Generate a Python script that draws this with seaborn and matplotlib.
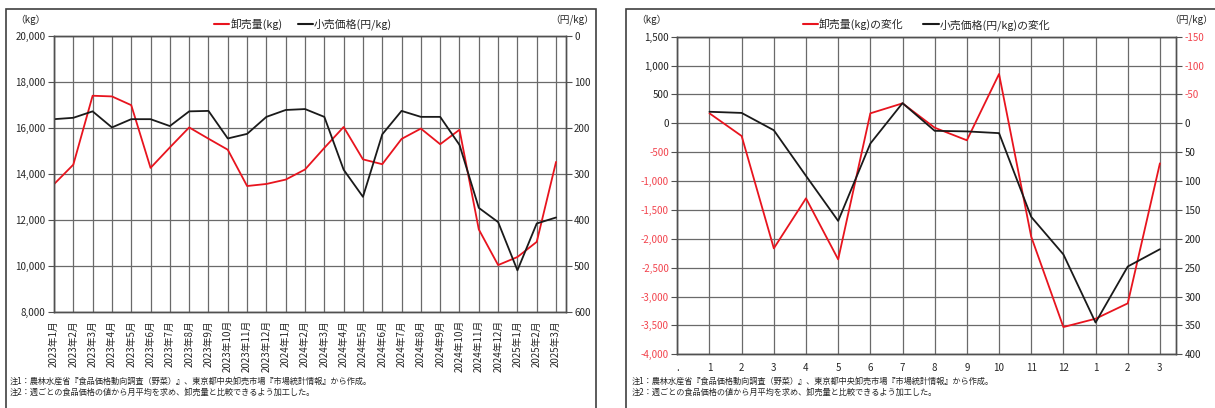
import numpy as np
import pandas as pd
import matplotlib
matplotlib.use("Agg")
import matplotlib.pyplot as plt
import matplotlib.patches as mpatches
from matplotlib.lines import Line2D
import seaborn as sns

# ---- data -------------------------------------------------------------
months = ["2023年1月", "2023年2月", "2023年3月", "2023年4月", "2023年5月", "2023年6月",
          "2023年7月", "2023年8月", "2023年9月", "2023年10月", "2023年11月", "2023年12月",
          "2024年1月", "2024年2月", "2024年3月", "2024年4月", "2024年5月", "2024年6月",
          "2024年7月", "2024年8月", "2024年9月", "2024年10月", "2024年11月", "2024年12月",
          "2025年1月", "2025年2月", "2025年3月"]
volume_kg = [13550, 14400, 17400, 17370, 16990, 14260, 15150, 16020, 15530, 15050,
             13470, 13560, 13750, 14190, 15130, 16040, 14630, 14420, 15520, 15970,
             15290, 15920, 11580, 10030, 10380, 11040, 14520]
price_yen = [181, 178, 164, 199, 181, 181, 196, 164, 163, 223, 213, 176, 161, 159,
             176, 291, 350, 214, 163, 176, 176, 237, 374, 405, 510, 408, 395]

change_labels = [".", "1", "2", "3", "4", "5", "6", "7", "8", "9", "10", "11", "12",
                 "1", "2", "3"]
volume_change = [173, -220, -2165, -1299, -2356, 173, 346, -76, -294, 854,
                 -1964, -3528, -3384, -3118, -693]
price_change = [-20, -18, 12, 91, 169, 35, -35, 13, 14, 17, 162, 227, 345, 248, 218]

left_ticks = [8000, 10000, 12000, 14000, 16000, 18000, 20000]
right_ticks = [0, 100, 200, 300, 400, 500, 600]
chg_left_ticks = list(range(-4000, 1501, 500))
chg_right_ticks = list(range(-150, 401, 50))

notes = ["注1：農林水産省『食品価格動向調査（野菜）』、東京都中央卸売市場『市場統計情報』から作成。",
         "注2：週ごとの食品価格の値から月平均を求め、卸売量と比較できるよう加工した。"]

# ---- style ------------------------------------------------------------
sns.set_style("white")
plt.rcParams["font.family"] = ["Noto Sans CJK JP", "DejaVu Sans"]
plt.rcParams["axes.unicode_minus"] = False

RED = "#e8141e"
BLACK = "#1a1a1a"
GRID = "#6a6a6a"
NEG = "#f2444e"
W, H = 1215, 408

fig = plt.figure(figsize=(W / 100, H / 100), dpi=100)


def fx(px):
    return px / W


def fy(py):
    return 1 - py / H


def style_axes(ax, twin):
    for ax_ in (ax, twin):
        for s in ax_.spines.values():
            s.set_color("#505050")
            s.set_linewidth(1.0)
    ax.grid(True, color=GRID, linewidth=0.9)
    ax.set_axisbelow(True)
    twin.grid(False)
    ax.tick_params(axis="both", direction="out", length=4, width=0.8,
                   color="#505050", labelsize=7, pad=2)
    twin.tick_params(axis="y", direction="out", length=4, width=0.8,
                     color="#505050", labelsize=7, pad=2)
    ax.set_xlabel("")
    ax.set_ylabel("")
    twin.set_xlabel("")
    twin.set_ylabel("")


# panel frames
for x0, x1 in [(6, 596), (626, 1230)]:
    fig.add_artist(mpatches.Rectangle((fx(x0), fy(420)), fx(x1 - x0), fy(9) - fy(420),
                                      transform=fig.transFigure, fill=False,
                                      edgecolor="#404040", linewidth=1.2))

# ---- left: levels -----------------------------------------------------
df_lvl = pd.DataFrame({"pos": np.arange(len(months)), "volume": volume_kg, "price": price_yen})
ax1 = fig.add_axes([fx(54), fy(311.7), fx(565.7 - 54), fy(36) - fy(311.7)])
ax1b = ax1.twinx()
sns.lineplot(data=df_lvl, x="pos", y="volume", ax=ax1, color=RED, linewidth=1.3)
sns.lineplot(data=df_lvl, x="pos", y="price", ax=ax1b, color=BLACK, linewidth=1.3)
ax1.set_xlim(0, len(months) - 0.5)
ax1.set_ylim(8000, 20000)
ax1b.set_ylim(600, 0)
ax1.set_yticks(left_ticks)
ax1.set_yticklabels([f"{v:,}" for v in left_ticks])
ax1b.set_yticks(right_ticks)
ax1b.set_yticklabels([str(v) for v in right_ticks])
ax1.set_xticks(np.arange(len(months)))
ax1.set_xticklabels(months, rotation=90, fontsize=7.6)
style_axes(ax1, ax1b)

h1 = [Line2D([], [], color=RED, lw=1.5), Line2D([], [], color=BLACK, lw=1.5)]
ax1.legend(h1, ["卸売量(kg)", "小売価格(円/kg)"], loc="lower center",
           bbox_to_anchor=(0.487, 1.0), ncol=2, frameon=False, fontsize=7.8,
           handlelength=1.4, handletextpad=0.1, columnspacing=1.4, borderaxespad=0.15)
fig.text(fx(30), fy(20), "（kg）", fontsize=7, ha="center", va="center")
fig.text(fx(594), fy(20), "（円/kg）", fontsize=7, ha="right", va="center")
for i, t in enumerate(notes):
    fig.text(fx(10), fy(381 + 11 * i), t, fontsize=5.9, ha="left", va="center")

# ---- right: changes ---------------------------------------------------
df_chg = pd.DataFrame({"pos": np.arange(1, len(volume_change) + 1),
                       "volume": volume_change, "price": price_change})
ax2 = fig.add_axes([fx(677.3), fy(354.3), fx(1176 - 677.3), fy(36.7) - fy(354.3)])
ax2b = ax2.twinx()
sns.lineplot(data=df_chg, x="pos", y="volume", ax=ax2, color=RED, linewidth=1.3)
sns.lineplot(data=df_chg, x="pos", y="price", ax=ax2b, color=BLACK, linewidth=1.3)
ax2.set_xlim(0, len(change_labels) - 0.5)
ax2.set_ylim(-4000, 1500)
ax2b.set_ylim(400, -150)
ax2.set_yticks(chg_left_ticks)
ax2.set_yticklabels([f"{v:,}" for v in chg_left_ticks])
ax2b.set_yticks(chg_right_ticks)
ax2b.set_yticklabels([str(v) for v in chg_right_ticks])
ax2.set_xticks(np.arange(len(change_labels)))
ax2.set_xticklabels(change_labels, fontsize=7)
style_axes(ax2, ax2b)
ax2.tick_params(axis="x", length=0, pad=6)
for lab, v in zip(ax2.get_yticklabels(), chg_left_ticks):
    lab.set_color(NEG if v < 0 else "#222222")
for lab, v in zip(ax2b.get_yticklabels(), chg_right_ticks):
    lab.set_color(NEG if v < 0 else "#222222")

ax2.legend(h1, ["卸売量(kg)の変化", "小売価格(円/kg)の変化"], loc="lower center",
           bbox_to_anchor=(0.5, 1.0), ncol=2, frameon=False, fontsize=7.8,
           handlelength=1.4, handletextpad=0.1, columnspacing=1.8, borderaxespad=0.15)
fig.text(fx(651), fy(20), "（kg）", fontsize=7, ha="center", va="center")
fig.text(fx(1213), fy(20), "（円/kg）", fontsize=7, ha="right", va="center")
for i, t in enumerate(notes):
    fig.text(fx(632), fy(381 + 11 * i), t, fontsize=5.9, ha="left", va="center")

fig.savefig("out.png", dpi=100)
